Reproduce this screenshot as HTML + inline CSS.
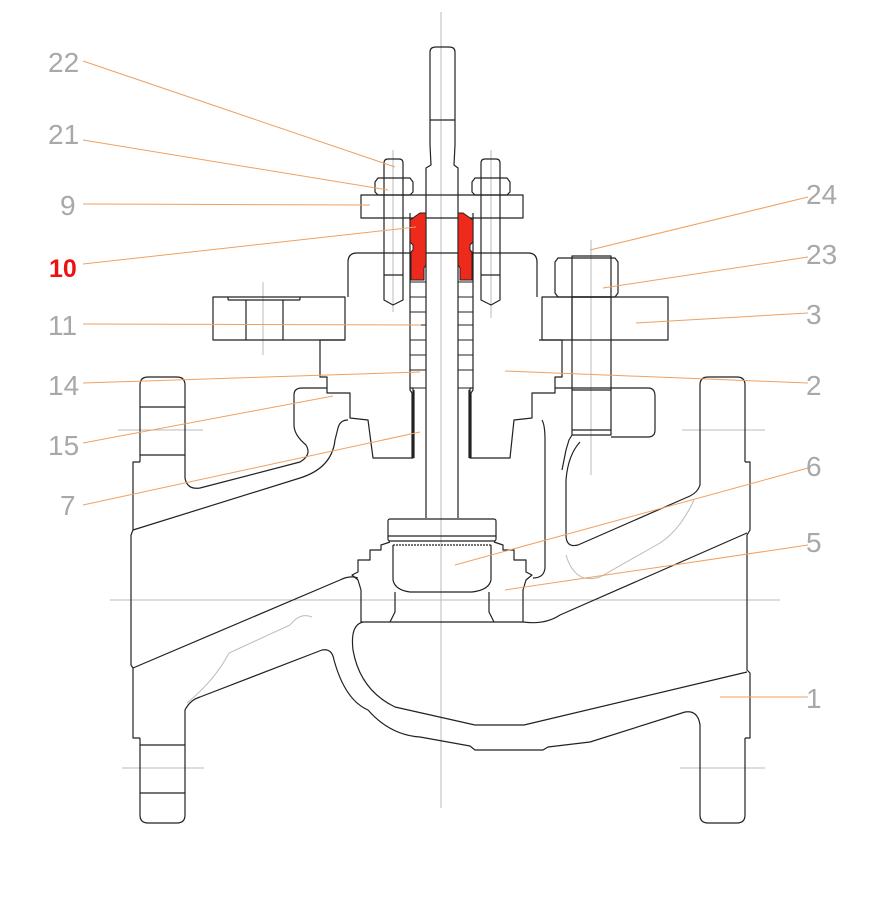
<!DOCTYPE html>
<html><head><meta charset="utf-8"><style>
html,body{margin:0;padding:0;background:#fff;width:885px;height:911px;overflow:hidden}
svg{display:block}
text{font-family:"Liberation Sans",sans-serif;font-size:28px;fill:#a8a8a8}
</style></head><body>
<svg width="885" height="911" viewBox="0 0 885 911" xmlns="http://www.w3.org/2000/svg">
<g stroke="#bbb" stroke-width="1" fill="none">
<line x1="441" y1="12" x2="441" y2="808"/>
<line x1="110" y1="600" x2="780" y2="600"/>
<line x1="118" y1="430" x2="203" y2="430"/>
<line x1="682" y1="430" x2="765" y2="430"/>
<line x1="122" y1="768" x2="204" y2="768"/>
<line x1="680" y1="768" x2="765" y2="768"/>
<line x1="263" y1="282" x2="263" y2="355"/>
<line x1="591" y1="240" x2="591" y2="475"/>
<line x1="393" y1="150" x2="393" y2="312"/>
<line x1="491" y1="150" x2="491" y2="318"/>
<path d="M694,500 Q680,530 660,543 L600,577 Q575,585 566,555" />
<path d="M312,617 Q300,612 290,625 L229,653 Q215,680 187,703"/>
</g>
<g stroke="#222" stroke-width="1.2" fill="none" stroke-linejoin="round">
<path d="M140,462 L140,385 Q140,377 148,377 L177,377 Q185,377 185,385 L185,462"/>
<line x1="140" y1="407" x2="185" y2="407"/><line x1="140" y1="455" x2="185" y2="455"/>
<path d="M140,738 L140,815 Q140,823 148,823 L177,823 Q185,823 185,815 L185,738"/>
<line x1="140" y1="745" x2="185" y2="745"/><line x1="140" y1="793" x2="185" y2="793"/>
<path d="M140,462 L133,462 L133,530 L131,535 L131,665 L133,668 L133,738 L140,738"/>
<path d="M700,462 L700,385 Q700,377 708,377 L737,377 Q745,377 745,385 L745,462"/>
<path d="M700,738 L700,815 Q700,823 708,823 L737,823 Q745,823 745,815 L745,738"/>
<path d="M745,462 L750,462 L750,530 L747,535 L747,670 L750,673 L750,738 L745,738"/>
<path d="M133,530 L300,478 Q332,468 335,440 L338,428 Q340,420 348,420"/>
<path d="M185,462 L185,478 Q187,490 200,488 L300,462 Q312,455 306,445 Q294,435 294,425 L294,395 Q294,388 302,388 L327,388"/>
<path d="M133,668 L340,580 Q350,575 358,578"/>
<path d="M185,738 L185,710 Q190,700 200,697 L322,650 Q332,648 334,660 Q345,700 368,710 Q390,735 420,737 L470,746 L475,750 L543,750 L548,747 L590,742 L685,712 Q698,710 700,725 L700,738"/>
<path d="M363,622 Q350,625 353,650 Q360,690 395,707 L475,725 L524,725 L747,672"/>
<path d="M523,622 Q545,625 560,615 L747,533"/>
<path d="M700,462 L700,485 Q698,492 690,496 L578,545 Q566,548 566,535 L566,480 Q568,455 580,442"/>
<path d="M542,420 Q545,425 545,440 L545,568 Q544,578 533,578"/>
<path d="M348,297 L348,262 Q348,253 357,253 L528,253 Q537,253 537,262 L537,297"/>
<path d="M345,340 L320,340 L320,377 L327,377 L327,393 L350,393 L350,418 L368,420 L373,458 L413,458 L413,388 L410,388"/>
<path d="M539,340 L562,340 L562,377 L555,377 L555,393 L532,393 L532,418 L514,420 L510,458 L470,458 L470,388 L473,388"/>
<rect x="213" y="297" width="132" height="43"/>
<line x1="228" y1="300" x2="300" y2="300"/><line x1="228" y1="297" x2="228" y2="300"/><line x1="300" y1="297" x2="300" y2="300"/>
<line x1="246" y1="300" x2="246" y2="340"/><line x1="283" y1="300" x2="283" y2="340"/>
<rect x="542" y="297" width="126" height="43"/>
<line x1="572" y1="297" x2="572" y2="340"/>
<path d="M555,388 L648,388 Q655,388 655,396 L655,430 Q655,437 648,437 L611,437"/>
<rect x="572" y="297" width="39" height="138"/>
<line x1="572" y1="390" x2="611" y2="390"/><line x1="572" y1="430" x2="611" y2="430"/>
<path d="M572,435 L569,440 L566,450 L562,470"/>
<path d="M558,258 L615,258 L618,262 L618,293 L615,297 L558,297 L555,293 L555,262 Z"/>
<rect x="572" y="256" width="39" height="41"/>
<path d="M430,145 L430,52 Q430,47 436,47 L449,47 Q455,47 455,52 L455,145"/>
<line x1="430" y1="120" x2="455" y2="120"/>
<path d="M430,145 L431,165 L426,168 L426,518 M455,145 L454,165 L458,168 L458,518"/>
<path d="M410,213 L410,390 L412,393 L412,458 M473,213 L473,390 L471,393 L471,458"/>
<path d="M414,390 L414,458 M469,390 L469,458"/>
<g stroke-width="1">
<line x1="410" y1="282" x2="426" y2="282"/><line x1="410" y1="297" x2="426" y2="297"/><line x1="410" y1="312" x2="426" y2="312"/><line x1="410" y1="325" x2="426" y2="325"/><line x1="410" y1="340" x2="426" y2="340"/><line x1="410" y1="355" x2="426" y2="355"/><line x1="410" y1="370" x2="426" y2="370"/><line x1="410" y1="388" x2="426" y2="388"/>
<line x1="458" y1="282" x2="473" y2="282"/><line x1="458" y1="297" x2="473" y2="297"/><line x1="458" y1="312" x2="473" y2="312"/><line x1="458" y1="325" x2="473" y2="325"/><line x1="458" y1="340" x2="473" y2="340"/><line x1="458" y1="355" x2="473" y2="355"/><line x1="458" y1="370" x2="473" y2="370"/><line x1="458" y1="388" x2="473" y2="388"/>
</g>
<rect x="361" y="195" width="162" height="23"/>
<path d="M384,300 L384,163 Q384,159 388,159 L399,159 Q403,159 403,163 L403,300 L393,305 Z"/>
<path d="M481,300 L481,163 Q481,159 485,159 L496,159 Q500,159 500,163 L500,300 L491,305 Z"/>
<line x1="384" y1="275" x2="403" y2="275"/><line x1="481" y1="275" x2="500" y2="275"/>
<path d="M378,178 L410,178 L413,182 L413,192 L410,195 L378,195 L375,192 L375,182 Z"/>
<path d="M475,178 L507,178 L510,182 L510,192 L507,195 L475,195 L472,192 L472,182 Z"/>
<rect x="388" y="519" width="108" height="22" rx="2"/>
<line x1="388" y1="536" x2="496" y2="536"/>
<path d="M393,545 L393,580 Q395,590 410,592 L472,592 Q489,590 491,580 L491,545"/>
<line x1="393" y1="545" x2="491" y2="545" stroke-dasharray="2,1"/>
<path d="M390,542 L381,545 L381,550 L370,550 L370,560 L358,560 L358,572 L352,575 L358,580 L361,590 L361,622 L523,622 L523,590 L526,580 L532,575 L526,572 L526,560 L514,560 L514,550 L503,550 L503,545 L494,542"/>
<path d="M395,592 L395,612 L390,622 M489,592 L489,612 L494,622"/>
</g>
<g fill="#ee2a1c" stroke="#222" stroke-width="1">
<path d="M410,220 L420,213 L426,213 L426,265 L424,268 L424,280 L411,280 L411,252 L413,250 L413,245 L410,242 Z"/>
<path d="M473,220 L463,213 L458,213 L458,265 L460,268 L460,280 L472,280 L472,252 L470,250 L470,245 L473,242 Z"/>
</g>
<g stroke="#f0a060" stroke-width="1" fill="none">
<line x1="83" y1="61" x2="395" y2="167"/>
<line x1="83" y1="140" x2="388" y2="190"/>
<line x1="83" y1="204" x2="370" y2="205"/>
<line x1="83" y1="264" x2="416" y2="227"/>
<line x1="83" y1="324" x2="421" y2="325"/>
<line x1="83" y1="383" x2="420" y2="372"/>
<line x1="83" y1="443" x2="333" y2="396"/>
<line x1="83" y1="505" x2="420" y2="432"/>
<line x1="808" y1="197" x2="590" y2="250"/>
<line x1="808" y1="257" x2="603" y2="288"/>
<line x1="808" y1="313" x2="636" y2="323"/>
<line x1="808" y1="383" x2="505" y2="371"/>
<line x1="808" y1="468" x2="455" y2="565"/>
<line x1="808" y1="545" x2="505" y2="590"/>
<line x1="808" y1="697" x2="720" y2="697"/>
</g>
<text x="48" y="72">22</text>
<text x="48" y="144">21</text>
<text x="60" y="215">9</text>
<text x="49" y="277" style="fill:#ee1111;font-weight:bold;font-size:25px">10</text>
<text x="48" y="335">11</text>
<text x="48" y="395">14</text>
<text x="48" y="455">15</text>
<text x="60" y="515">7</text>
<text x="806" y="204">24</text>
<text x="806" y="264">23</text>
<text x="806" y="324">3</text>
<text x="806" y="395">2</text>
<text x="806" y="476">6</text>
<text x="806" y="552">5</text>
<text x="806" y="708">1</text>
</svg>
</body></html>
